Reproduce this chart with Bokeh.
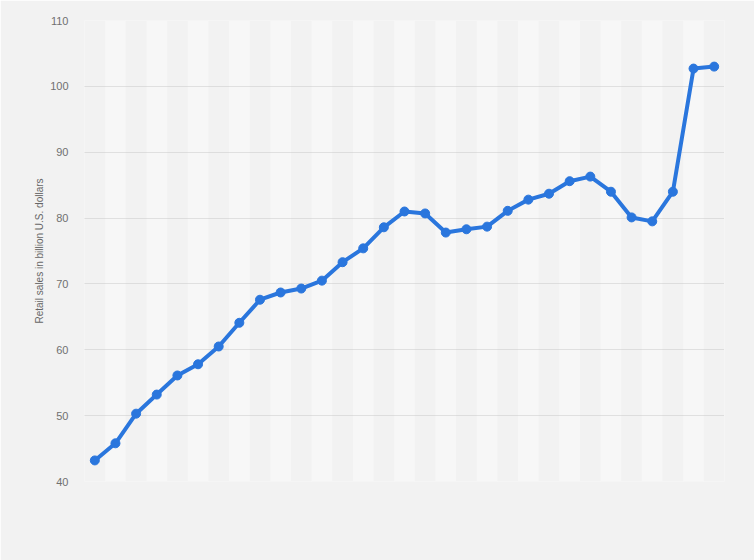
from bokeh.plotting import figure
from bokeh.models import Range1d, FixedTicker
from bokeh.embed import file_html
from bokeh.resources import INLINE

# Retail sales in billion U.S. dollars (one value per period, oldest first)
sales = [43.2, 45.8, 50.3, 53.2, 56.1, 57.8, 60.5, 64.1, 67.6, 68.7,
         69.3, 70.5, 73.3, 75.4, 78.6, 81.0, 80.7, 77.8, 78.3, 78.7,
         81.1, 82.8, 83.7, 85.6, 86.3, 84.0, 80.1, 79.5, 84.0, 102.7, 103.0]
y_ticks = [40, 50, 60, 70, 80, 90, 100, 110]
y_label = "Retail sales in billion U.S. dollars"

positions = list(range(len(sales)))
band_pos = [i for i in positions if i % 2 == 1]

BG = "#f2f2f2"
BAND = "#f7f7f7"
BLUE = "#2a76dd"

p = figure(width=754, height=560, output_backend="svg", toolbar_location=None,
           x_range=Range1d(-0.5, len(sales) - 0.5),
           y_range=Range1d(y_ticks[0], y_ticks[-1]),
           min_border_left=84, min_border_right=30,
           min_border_top=20, min_border_bottom=79)
p.background_fill_color = BG
p.border_fill_color = BG
p.outline_line_color = None

p.vbar(x=band_pos, width=1, bottom=y_ticks[0], top=y_ticks[-1],
       fill_color=BAND, line_color=None, level="image")

p.line(positions, sales, line_color=BLUE, line_width=4, line_join="round")
p.scatter(positions, sales, size=9, fill_color=BLUE, line_color=BLUE)

p.xaxis.visible = False
p.xgrid.visible = False
p.ygrid.grid_line_color = "#c8c8c8"
p.ygrid.grid_line_dash = "1 1"
p.ygrid.grid_line_width = 1

ax = p.yaxis[0]
ax.ticker = FixedTicker(ticks=y_ticks)
ax.axis_line_color = None
ax.major_tick_line_color = None
ax.minor_tick_line_color = None
ax.major_label_text_font = "Liberation Sans"
ax.major_label_text_font_size = "11px"
ax.major_label_text_color = "#707070"
ax.major_label_standoff = 10
ax.axis_label = y_label
ax.axis_label_text_font = "Liberation Sans"
ax.axis_label_text_font_size = "10px"
ax.axis_label_text_font_style = "normal"
ax.axis_label_text_color = "#666666"
ax.axis_label_standoff = 2

html = file_html(p, INLINE)
html = html.replace("<body>", '<body style="background:%s;">' % BG, 1)
open("out.html", "w").write(html)
